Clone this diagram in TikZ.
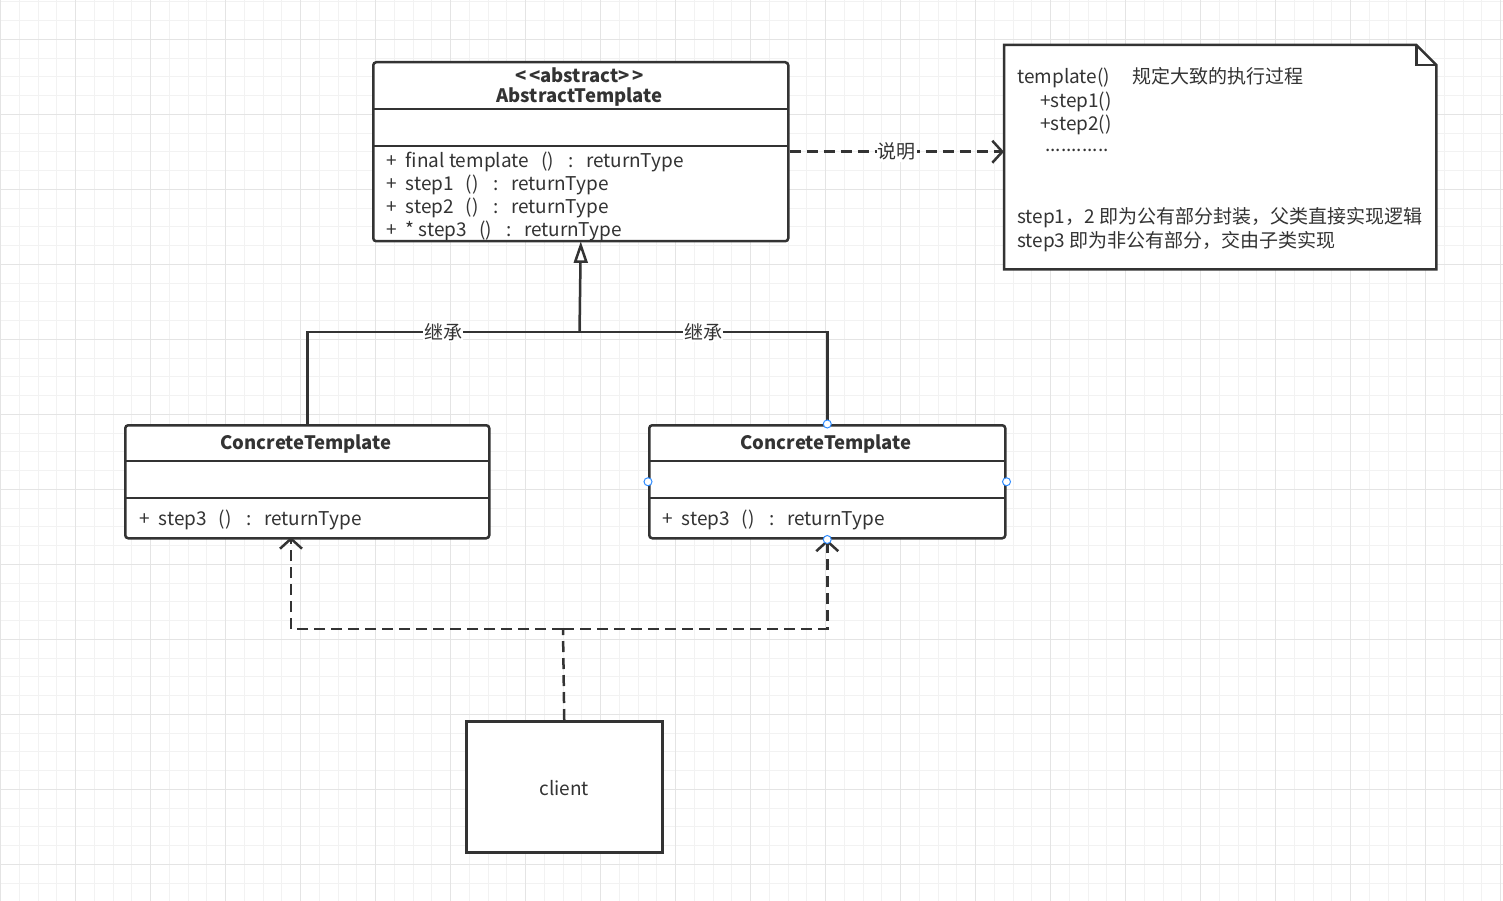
\documentclass[tikz,border=0pt]{standalone}
\usepackage{fontspec}
\setmainfont{Noto Sans CJK SC}
\usetikzlibrary{arrows.meta}
\definecolor{ink}{HTML}{333333}
\definecolor{gridminor}{HTML}{F2F2F2}
\definecolor{gridmajor}{HTML}{E4E4E4}
\definecolor{handle}{HTML}{2F8CFF}
\newcommand{\umlop}[1]{+\hspace{9pt}#1\hspace{12pt}()\hspace{15pt}:\hspace{12pt}returnType}
\tikzset{
  minorgrid/.style={draw=gridminor, line width=1pt},
  majorgrid/.style={draw=gridmajor, line width=1pt},
  classbox/.style={draw=ink, line width=2.5pt, rounded corners=3pt, fill=white, inner sep=0pt},
  plainbox/.style={draw=ink, line width=2.5pt, fill=white, inner sep=0pt},
  divider/.style={draw=ink, line width=2.5pt},
  titletext/.style={text=ink, font=\fontsize{18.5}{20}\selectfont\bfseries, inner sep=0pt},
  methodtext/.style={text=ink, font=\fontsize{19}{21}\selectfont, inner sep=0pt, anchor=west},
  notetext/.style={text=ink, font=\fontsize{19}{21}\selectfont, inner sep=0pt, anchor=west},
  lbl/.style={text=ink, font=\fontsize{19}{21}\selectfont, fill=white, inner sep=1pt},
  solidline/.style={draw=ink, line width=2.5pt},
  dashline/.style={draw=ink, line width=2.5pt, dash pattern=on 11pt off 6pt},
  openhead/.style={-{Straight Barb[length=10pt,width=22pt,line width=2.5pt]}},
  inherittri/.style={draw=ink, line width=2.5pt, fill=white, line join=miter},
  handledot/.style={circle, draw=handle, fill=white, line width=1pt, minimum size=8pt, inner sep=0pt},
}
\begin{document}
\begin{tikzpicture}[x=1pt,y=-1pt]
\useasboundingbox (0,0) rectangle (1503,901);
\fill[white] (0,0) rectangle (1503,901);
% grid
\foreach \i in {0,...,80} { \draw[minorgrid] ({0.7+18.75*\i},0) -- ({0.7+18.75*\i},901); }
\foreach \j in {2,...,50} { \draw[minorgrid] (0,{-35.7+18.75*\j}) -- (1503,{-35.7+18.75*\j}); }
\foreach \i in {0,...,20} { \draw[majorgrid] ({0.7+75*\i},0) -- ({0.7+75*\i},901); }
\foreach \j in {1,...,12} { \draw[majorgrid] (0,{-35.7+75*\j}) -- (1503,{-35.7+75*\j}); }

% abstract class
\node[classbox, minimum width=415pt, minimum height=179pt, anchor=north west] (abs) at (372,61) {};
\draw[divider] (372,109) -- (787,109);
\draw[divider] (372,146) -- (787,146);
\node[titletext] (absster) at (579.5,75) {<\kern3pt<abstract>\kern3pt>};
\node[titletext] (absname) at (579.5,97) {AbstractTemplate};
\node[methodtext] (m1) at (386,162) {\umlop{final template}};
\node[methodtext] (m2) at (386,185) {\umlop{step1}};
\node[methodtext] (m3) at (386,208) {\umlop{step2}};
\node[methodtext] (m4) at (386,231) {\umlop{* step3}};

% note
\node[minimum width=432pt, minimum height=224pt, anchor=north west, inner sep=0pt] (note) at (1004,45) {};
\draw[draw=ink, line width=2.5pt, fill=white] (note.north west) -- ([xshift=-20pt]note.north east) -- ([yshift=-20pt]note.north east) -- (note.south east) -- (note.south west) -- cycle;
\draw[draw=ink, line width=2.5pt] ([xshift=-20pt]note.north east) -- ([xshift=-20pt,yshift=-20pt]note.north east) -- ([yshift=-20pt]note.north east);
\node[notetext] (n1) at (1017,78) {template()\hspace{22pt}规定大致的执行过程};
\node[notetext] (n2) at (1040,102) {+step1()};
\node[notetext] (n3) at (1040,125) {+step2()};
\node[notetext] (n4) at (1045,150) {............};
\node[notetext] (n5) at (1017,218) {step1，2 即为公有部分封装，父类直接实现逻辑};
\node[notetext] (n6) at (1017,242) {step3 即为非公有部分，交由子类实现};

% concrete classes
\node[classbox, minimum width=364pt, minimum height=113pt, anchor=north west] (cl) at (124,424) {};
\draw[divider] (124,461) -- (488,461);
\draw[divider] (124,498) -- (488,498);
\node[titletext] (clname) at (306,444) {ConcreteTemplate};
\node[methodtext] (clm) at (139,520) {\umlop{step3}};

\node[classbox, minimum width=356pt, minimum height=113pt, anchor=north west] (cr) at (648,424) {};
\draw[divider] (648,461) -- (1004,461);
\draw[divider] (648,498) -- (1004,498);
\node[titletext] (crname) at (826,444) {ConcreteTemplate};
\node[methodtext] (crm) at (662,520) {\umlop{step3}};

% client
\node[plainbox, minimum width=196pt, minimum height=131pt, anchor=north west] (client) at (465,720) {};
\node[text=ink, font=\fontsize{19}{21}\selectfont, inner sep=0pt] (clienttext) at ([yshift=-1pt]client.center) {client};

% note connector
\draw[dashline, openhead] (abs.east) -- (abs.east -| note.west) node[lbl, pos=0.5, solid] {说明};

% inheritance
\coordinate (junction) at (579.5,332);
\draw[solidline] (cl.north) |- (junction) node[lbl, pos=0.75] {继承};
\draw[solidline] (cr.north) |- (junction) node[lbl, pos=0.75] {继承};
\draw[solidline, shorten >=18pt] (junction) -- (abs.south);
\draw[inherittri] ([yshift=-3pt]abs.south) -- ++(-5.5,16) -- ++(11,0) -- cycle;

% dependencies
\coordinate (split) at (563,629);
\coordinate (clin) at (291,537);
\draw[dashline] (client.north) -- (split);
\draw[dashline, openhead] (split) -| (clin);
\draw[dashline, openhead] (split) -| (cr.south);

% selection handles
\node[handledot] (h1) at (cr.north) {};
\node[handledot] (h2) at (cr.west) {};
\node[handledot] (h3) at (cr.east) {};
\node[handledot] (h4) at (cr.south) {};
\end{tikzpicture}
\end{document}
